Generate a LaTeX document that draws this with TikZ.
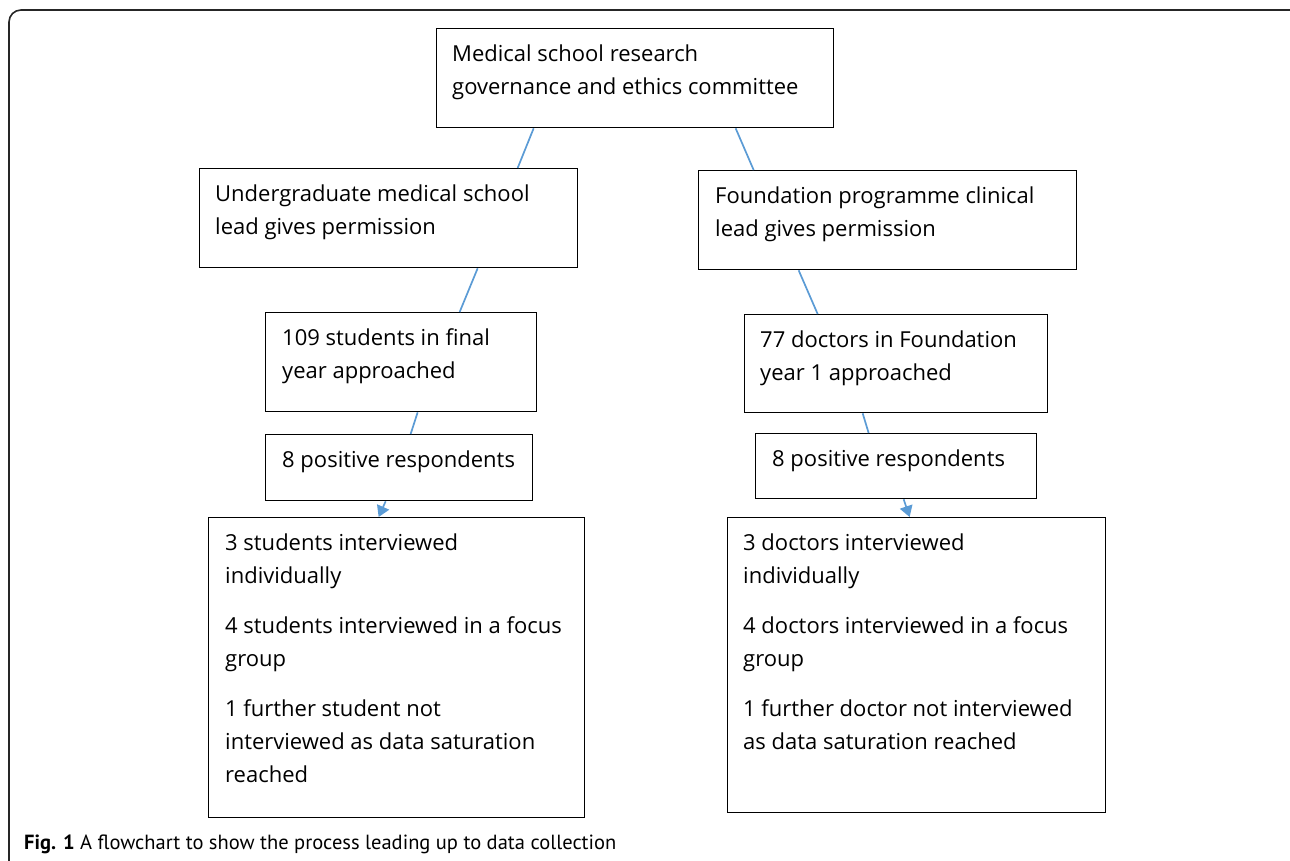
\documentclass[tikz,border=0pt]{standalone}
\usepackage{fontspec}
\setmainfont{Open Sans}
\newfontfamily\capfont{PT Sans}
\usetikzlibrary{arrows.meta,positioning}
\definecolor{linkblue}{HTML}{5B9BD5}

\begin{document}
\begin{tikzpicture}[x=1pt, y=-1pt,
    block/.style={draw, rectangle, line width=1.3pt, inner sep=0pt, anchor=north west},
    txt/.style={anchor=north west, inner sep=0pt, align=left, font=\fontsize{22}{33}\selectfont},
    link/.style={draw=linkblue, line width=1.7pt},
    arr/.style={link, -{Triangle[length=11pt,width=13pt]}},
]
    \clip (0,0) rectangle (1290,860);
    \useasboundingbox (0,0) rectangle (1290,860);

    % Outer frame
    \draw[line width=1.6pt, rounded corners=12pt, black!85] (9,10) rectangle (1302,880);

    % Row 1: Committee
    \node[block, minimum width=397pt, minimum height=99pt] (committee) at (436,28) {};
    \node[txt] (committee-t) at ([xshift=16pt,yshift=-16.5pt]committee.north west) {Medical school research\\governance and ethics committee};

    % Row 2: Permissions
    \node[block, minimum width=378pt, minimum height=99pt] (ugLead) at (199,168) {};
    \node[txt] (ugLead-t) at ([xshift=16pt,yshift=-16.5pt]ugLead.north west) {Undergraduate medical school\\lead gives permission};
    \node[block, minimum width=378pt, minimum height=99pt] (fpLead) at (698,170) {};
    \node[txt] (fpLead-t) at ([xshift=17pt,yshift=-16.5pt]fpLead.north west) {Foundation programme clinical\\lead gives permission};

    % Row 3: Approached
    \node[block, minimum width=271pt, minimum height=99pt] (students) at (265,312) {};
    \node[txt] (students-t) at ([xshift=17pt,yshift=-16.5pt]students.north west) {109 students in final\\year approached};
    \node[block, minimum width=303pt, minimum height=98pt] (doctors) at (744,314) {};
    \node[txt] (doctors-t) at ([xshift=16pt,yshift=-16.5pt]doctors.north west) {77 doctors in Foundation\\year 1 approached};

    % Row 4: Respondents
    \node[block, minimum width=267pt, minimum height=66pt] (posStu) at (265,434) {};
    \node[txt] (posStu-t) at ([xshift=17pt,yshift=-16.5pt]posStu.north west) {8 positive respondents};
    \node[block, minimum width=281pt, minimum height=65pt] (posDoc) at (755,433) {};
    \node[txt] (posDoc-t) at ([xshift=17pt,yshift=-16.5pt]posDoc.north west) {8 positive respondents};

    % Row 5: Interviews
    \node[block, minimum width=376pt, minimum height=300pt] (intStu) at (208,517) {};
    \node[txt] (intStu-t) at ([xshift=17pt,yshift=-16.5pt]intStu.north west) {3 students interviewed\\individually\\[17pt]4 students interviewed in a focus\\group\\[17pt]1 further student not\\interviewed as data saturation\\reached};
    \node[block, minimum width=378pt, minimum height=295pt] (intDoc) at (727,517) {};
    \node[txt] (intDoc-t) at ([xshift=16pt,yshift=-16.5pt]intDoc.north west) {3 doctors interviewed\\individually\\[17pt]4 doctors interviewed in a focus\\group\\[17pt]1 further doctor not interviewed\\as data saturation reached};

    % Connectors
    \draw[link] ([xshift=-101.5pt]committee.south) -- ([xshift=129pt]ugLead.north);
    \draw[link] ([xshift=100.5pt]committee.south) -- ([xshift=-134pt]fpLead.north);
    \draw[link] ([xshift=89pt]ugLead.south) -- ([xshift=58.5pt]students.north);
    \draw[link] ([xshift=-89pt]fpLead.south) -- ([xshift=-78.5pt]doctors.north);
    \draw[link] ([xshift=16.5pt]students.south) -- ([xshift=11.5pt]posStu.north);
    \draw[link] ([xshift=-33.5pt]doctors.south) -- ([xshift=-27.5pt]posDoc.north);
    \draw[arr] ([xshift=-13.5pt]posStu.south) -- ([xshift=-18pt]intStu.north);
    \draw[arr] ([xshift=7.5pt]posDoc.south) -- ([xshift=-7pt]intDoc.north);

    % Caption
    \node[anchor=west, inner sep=0pt, font=\capfont\fontsize{20.5}{22}\selectfont] (caption) at (24,844.5) {\textbf{Fig. 1} A flowchart to show the process leading up to data collection};
\end{tikzpicture}
\end{document}
